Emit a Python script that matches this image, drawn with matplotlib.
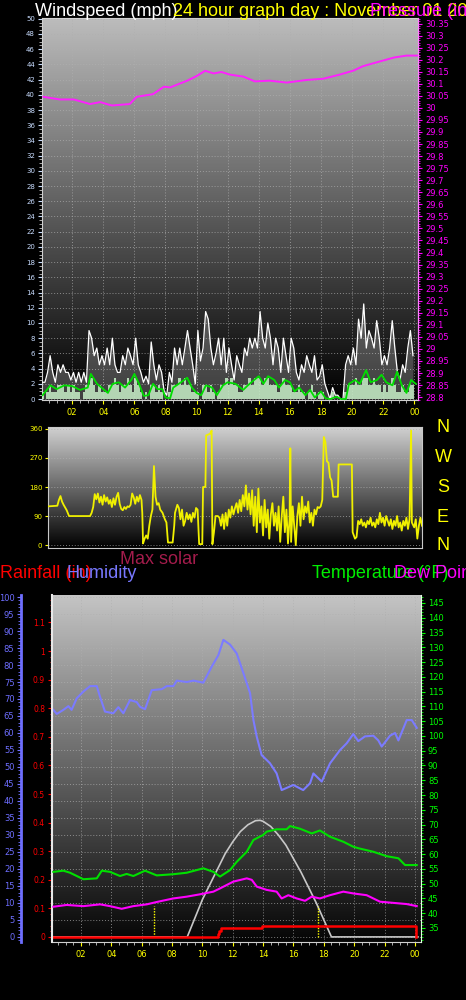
import numpy as np
import matplotlib
matplotlib.use('Agg')
import matplotlib.pyplot as plt
from matplotlib.colors import LinearSegmentedColormap
from matplotlib.ticker import MultipleLocator

# ---- data ----
hour_ticks = [2, 4, 6, 8, 10, 12, 14, 16, 18, 20, 22, 24]
hour_labels = ['02', '04', '06', '08', '10', '12', '14', '16', '18', '20', '22', '00']

# gusts (mph), one value per 10 minutes
gust = [2.2, 2.2, 3.5, 5.7, 3.5, 2.2,
        4.5, 3.5, 4.5, 3.5, 3.5, 2.5,
        3.5, 2.2, 3.5, 2.2, 3.5, 2.2,
        9.0, 8.0, 5.7, 6.7, 4.5, 5.7,
        4.5, 6.7, 4.5, 8.0, 4.5, 3.5,
        3.5, 5.7, 4.5, 6.7, 5.7, 4.5,
        8.0, 4.5, 3.5, 2.2, 3.0, 2.0,
        7.5, 4.5, 2.5, 4.5, 3.5, 1.0,
        0.5, 3.5, 2.2, 6.7, 4.5, 6.7,
        4.5, 6.7, 9.0, 6.7, 4.5, 2.0,
        9.0, 5.0, 6.7, 11.5, 10.5, 6.7,
        4.5, 6.0, 8.0, 4.5, 8.0, 3.5,
        6.7, 4.5, 2.5, 5.7, 4.5, 3.5,
        6.7, 5.7, 8.0, 6.7, 8.0, 6.7,
        11.5, 8.0, 6.7, 10.0, 8.0, 4.5,
        8.0, 6.7, 3.5, 8.0, 5.7, 3.5,
        8.0, 6.7, 3.5, 2.5, 4.5, 3.5,
        5.7, 4.5, 3.5, 5.7, 2.5, 3.0,
        4.5, 2.0, 1.0, 0.0, 1.5, 0.5,
        0.5, 0.0, 0.0, 4.5, 5.7, 4.5,
        6.7, 4.5, 10.5, 8.0, 12.5, 6.7,
        9.0, 8.0, 6.7, 10.3, 8.0, 4.5,
        5.7, 4.5, 6.7, 10.3, 6.7, 3.5,
        2.5, 4.5, 3.5, 6.7, 9.0, 5.7]

# wind speed (mph), one value per 10 minutes
wind = [0.9, 0, 0.9, 1.8, 0.9, 0.9,
        1.8, 1.8, 1.8, 0.9, 1.8, 0.9,
        1.8, 0.9, 0.9, 0, 0.9, 1.8,
        1.8, 2.7, 1.8, 0.9, 1.8, 0.9,
        0.9, 0.9, 1.8, 1.8, 2.7, 1.8,
        0.9, 1.8, 1.8, 2.7, 1.8, 0.9,
        2.7, 1.8, 0.9, 0, 0.9, 0,
        1.8, 1.8, 0.9, 1.8, 0.9, 0,
        0, 0.9, 1.8, 1.8, 1.8, 2.7,
        1.8, 2.7, 1.8, 1.8, 0.9, 0.9,
        0.9, 0, 1.8, 1.8, 0.9, 1.8,
        0.9, 0, 0.9, 1.8, 1.8, 2.7,
        1.8, 2.7, 1.8, 1.8, 0.9, 0.9,
        1.8, 1.8, 2.7, 1.8, 2.7, 2.7,
        2.7, 1.8, 2.7, 2.7, 1.8, 1.8,
        1.8, 0.9, 1.8, 2.7, 1.8, 1.8,
        1.8, 0.9, 0.9, 1.8, 0.9, 0.9,
        0, 0.9, 1.8, 0.9, 0, 0.9,
        0.9, 0, 0, 0, 0.9, 0,
        0, 0, 0, 0.9, 1.8, 1.8,
        1.8, 2.7, 1.8, 1.8, 2.7, 2.7,
        1.8, 1.8, 2.7, 1.8, 1.8, 0.9,
        1.8, 0.9, 1.8, 2.7, 1.8, 0.9,
        0.9, 1.8, 0.9, 0.9, 1.8, 1.8]

# average wind (mph)
avg_hours = [0.1, 0.6, 1.0, 1.5, 2.0, 2.5, 3.0, 3.2, 3.6, 4.0, 4.3, 4.6, 5.0, 5.4, 5.8,
             6.0, 6.3, 6.6, 6.9, 7.2, 7.5, 7.8, 8.0, 8.3, 8.5, 9.0, 9.4, 9.7, 10.0, 10.3,
             10.6, 11.0, 11.3, 11.7, 12.0, 12.5, 13.0, 13.3, 13.7, 14.0, 14.3, 14.6, 15.0,
             15.3, 15.7, 16.0, 16.3, 16.6, 17.0, 17.3, 17.6, 18.0, 18.3, 18.6, 19.0, 19.3,
             19.6, 19.8, 20.2, 20.5, 20.9, 21.2, 21.6, 21.9, 22.2, 22.6, 22.9, 23.2, 23.5,
             23.8, 24.1]
avg_wind = [0.5, 1.8, 1.3, 1.8, 1.7, 1.2, 1.5, 3.3, 2.0, 1.3, 0.8, 2.0, 2.2, 1.5, 2.5,
            3.3, 2.0, 0.4, 0.5, 2.0, 1.3, 1.3, 0.2, 0.1, 1.5, 2.2, 2.8, 1.5, 0.8, 0.5,
            1.8, 1.5, 0.5, 1.8, 2.2, 2.0, 1.2, 1.8, 2.5, 3.0, 2.0, 3.0, 2.5,
            1.5, 2.5, 2.2, 1.0, 1.5, 0.5, 1.2, 0.2, 1.0, 0.1, 0.0, 0.3, 0.0,
            0.0, 2.0, 2.5, 2.0, 3.8, 2.2, 2.5, 3.2, 2.2, 1.8, 3.6, 1.8, 0.8,
            2.5, 2.0]

# barometer (in)
press_hours = [0.15, 1.2, 2.1, 3.15, 3.8, 4.55, 5.7, 6.15, 7.2, 7.9, 8.3, 9.4, 10.0, 10.55,
               11.1, 11.6, 12.15, 13.0, 13.75, 14.7, 15.8, 17.1, 18.15, 19.2, 20.1, 20.7,
               21.8, 22.7, 23.5, 24.2]
pressure = [30.046, 30.035, 30.035, 30.016, 30.024, 30.010, 30.016, 30.046, 30.057, 30.088,
            30.085, 30.113, 30.132, 30.154, 30.143, 30.149, 30.138, 30.130, 30.110, 30.113,
            30.105, 30.116, 30.121, 30.138, 30.155, 30.173, 30.193, 30.209, 30.217, 30.217]

# wind direction (degrees)
dir_hours = [0.0, 0.6, 0.7, 0.8, 0.9, 1.0, 1.2, 1.35, 2.7, 2.8, 2.9, 3.0, 3.1, 3.2, 3.3, 3.4,
             3.5, 3.6, 3.7, 3.8, 3.9, 4.0, 4.1, 4.2, 4.3, 4.4, 4.5, 4.6, 4.7, 4.8, 4.9, 5.0,
             5.1, 5.2, 5.3, 5.4, 5.5, 5.6, 5.7, 5.8, 5.9, 6.0, 6.05, 6.1, 6.2, 6.3, 6.4, 6.5,
             6.6, 6.7, 6.8, 6.9, 7.0, 7.1, 7.2, 7.35, 7.5, 7.6, 7.7, 8.0, 8.1, 8.15, 8.3, 8.4,
             8.5, 8.6, 8.7, 8.8, 8.9, 9.0, 9.1, 9.2, 9.3, 9.4, 9.5, 9.6, 9.7, 9.9, 9.95, 10.1,
             10.15, 10.4, 10.5, 10.55, 10.65, 10.75, 10.9, 11.0, 11.1, 11.2, 11.3, 11.4, 11.5,
             11.6, 11.7, 11.8, 11.9, 12.0, 12.1, 12.2, 12.3, 12.4, 12.5, 12.6, 12.7, 12.8,
             12.9, 13.0, 13.1, 13.2, 13.3, 13.4, 13.5, 13.6, 13.7, 13.8, 13.9, 14.0, 14.1,
             14.2, 14.3, 14.4, 14.5, 14.6, 14.7, 14.8, 14.9, 15.0, 15.1, 15.2, 15.3, 15.4,
             15.5, 15.55, 15.6, 15.7, 15.8, 15.9, 16.0, 16.1, 16.2, 16.3, 16.4, 16.5, 16.6,
             16.7, 16.8, 16.9, 17.0, 17.1, 17.2, 17.3, 17.4, 17.5, 17.6, 17.7, 17.8, 17.9,
             18.0, 18.1, 18.2, 18.3, 18.6, 18.65, 19.5, 19.55, 19.7, 19.8, 19.9, 20.0, 20.1,
             20.2, 20.3, 20.4, 20.5, 20.6, 20.7, 20.8, 20.9, 21.0, 21.1, 21.2, 21.3, 21.4,
             21.5, 21.6, 21.7, 21.8, 21.9, 22.0, 22.1, 22.2, 22.3, 22.4, 22.5, 22.6, 22.7,
             22.8, 22.9, 23.0, 23.1, 23.2, 23.3, 23.35, 23.5, 23.6, 23.7, 23.8, 23.9, 24.0]
direction = [120, 122, 140, 152, 135, 125, 108, 90, 90, 100, 118, 158, 142, 160, 132, 150,
             125, 155, 135, 148, 128, 140, 118, 145, 125, 150, 162, 128, 112, 108, 118, 112,
             120, 118, 125, 160, 148, 128, 150, 135, 155, 140, 100, 5, 20, 30, 20, 60,
             90, 110, 245, 150, 125, 130, 110, 100, 80, 70, 8, 8, 60, 100, 125, 115,
             80, 110, 60, 75, 100, 80, 95, 72, 100, 85, 115, 110, 3, 3, 180, 180,
             340, 345, 355, 3, 40, 90, 90, 85, 60, 95, 50, 100, 60,
             110, 85, 120, 95, 115, 130, 100, 140, 105, 155, 120, 185, 110,
             160, 95, 170, 60, 150, 40, 175, 70, 120, 30, 140, 55, 110,
             20, 95, 130, 60, 100, 45, 120, 10, 90, 150, 40, 110, 5,
             80, 300, 10, 120, 60, 0, 90, 130, 60, 150, 80, 120, 100,
             135, 70, 100, 60, 110, 95, 118, 115, 120, 140, 335, 320, 260,
             255, 210, 200, 150, 150, 250, 250, 40, 20, 25, 75, 65, 80,
             60, 70, 55, 75, 65, 85, 60, 70, 55, 80, 65, 100, 70,
             85, 60, 90, 75, 60, 80, 50, 75, 60, 90, 55, 70, 45,
             75, 60, 85, 50, 80, 355, 70, 55, 80, 20, 60, 85, 60]

# humidity (%)
hum_hours = [0.18, 0.4, 0.84, 1.17, 1.38, 1.72, 2.16, 2.6, 3.04, 3.25, 3.58, 4.13, 4.46, 4.79,
             5.23, 5.67, 5.89, 6.22, 6.66, 7.32, 7.65, 8.09, 8.31, 8.97, 9.41, 10.06, 10.61,
             11.05, 11.38, 11.82, 12.26, 12.7, 13.14, 13.36, 13.58, 13.9, 14.45, 14.89, 15.22,
             15.99, 16.64, 17.09, 17.31, 17.86, 18.41, 19.07, 19.51, 19.94, 20.27, 20.71,
             21.26, 21.59, 21.81, 22.36, 22.69, 22.91, 23.46, 23.79, 24.12]
humidity = [66.8, 65.6, 66.8, 67.9, 66.8, 70.2, 72.2, 73.8, 73.8, 70.7, 66.3, 65.8, 67.6, 65.8,
            69.7, 69.1, 67.7, 67.0, 72.6, 72.9, 73.8, 73.8, 75.4, 75.0, 75.4, 74.8, 79.5,
            82.9, 87.4, 86.0, 83.4, 77.6, 71.7, 63.8, 58.9, 53.5, 51.1, 48.1, 43.2,
            44.7, 43.2, 45.2, 48.1, 45.7, 51.1, 55.0, 57.0, 59.7, 57.6, 59.0,
            59.2, 57.8, 56.0, 59.2, 60.0, 57.8, 63.8, 63.8, 61.5]

# temperature and dew point (F)
temp_hours = [0.18, 0.84, 1.28, 2.16, 3.04, 3.37, 3.91, 4.57, 5.01, 5.45, 6.22, 6.99, 8.08,
              8.96, 10.06, 10.72, 11.16, 11.82, 12.26, 12.92, 13.36, 14.01, 14.23, 14.89,
              15.55, 15.77, 16.43, 17.2, 17.74, 18.4, 19.28, 19.94, 20.27, 21.26, 22.14,
              22.91, 23.35, 24.12]
temperature = [54.0, 54.4, 53.7, 51.5, 51.8, 54.4, 54.0, 52.6, 53.3, 52.6, 54.4, 52.8, 53.2,
               53.7, 55.2, 54.0, 52.4, 54.6, 57.4, 60.8, 64.8, 66.5, 67.6, 68.4,
               68.4, 69.5, 68.6, 67.0, 68.0, 65.9, 64.2, 62.5, 62.0, 60.8, 59.3,
               58.6, 56.3, 56.3]
dew_hours = [0.18, 1.06, 2.16, 3.26, 3.91, 4.68, 5.45, 6.33, 6.99, 8.08, 8.96, 9.84, 10.72,
             11.16, 12.04, 12.92, 13.25, 13.58, 14.23, 14.89, 15.22, 15.66, 16.21, 16.76,
             17.2, 17.74, 18.4, 19.28, 19.94, 20.82, 21.7, 22.58, 23.46, 24.12]
dew_point = [42.2, 42.8, 42.4, 43.0, 42.4, 41.5, 42.4, 43.0, 43.8, 45.0, 45.6, 46.4, 47.3,
             48.4, 50.7, 51.8, 51.3, 49.0, 47.9, 47.3, 45.0, 46.1, 45.0, 44.2,
             45.6, 45.0, 46.1, 47.3, 46.7, 46.1, 43.9, 43.5, 43.1, 42.4]

# max solar curve (in humidity-axis units)
solar_hours = [0.1, 9.0, 9.5, 10.0, 10.5, 11.0, 11.5, 12.0, 12.5, 13.0, 13.5, 13.8, 14.0, 14.5,
               15.0, 15.5, 16.0, 16.5, 17.0, 17.5, 18.0, 18.5, 24.2]
solar_max = [0, 0, 5.5, 11, 15.5, 20, 24.5, 28, 31, 33, 34.2, 34.3, 34, 32.5,
             30, 27, 23, 19, 14.5, 10, 5, 0, 0]

# rainfall (in)
rain_hours = [0.1, 10.9, 11.0, 11.1, 11.2, 13.9, 13.95, 24.05, 24.06]
rainfall = [0, 0, 0.01, 0.02, 0.03, 0.03, 0.04, 0.04, 0]

sun_events = [6.8, 17.6]

# ---- drawing ----
fig = plt.figure(figsize=(4.66, 10), dpi=100, facecolor='black')
W, H = 466, 1000


def box(x0, y0, x1, y1):
    return [x0 / W, 1 - y1 / H, (x1 - x0) / W, (y1 - y0) / H]


def gradient(ax, top, bottom):
    cmap = LinearSegmentedColormap.from_list('bg', [bottom, top])
    ax.imshow(np.linspace(0, 1, 256).reshape(-1, 1), cmap=cmap, extent=(0, 1, 0, 1),
              transform=ax.transAxes, aspect='auto', origin='lower', zorder=0)


grid_kw = dict(color='#b0b0b0', ls=(0, (1, 2)), lw=0.7, alpha=0.7)

# top panel: wind + pressure
ax1 = fig.add_axes(box(42, 18, 418, 400))
gradient(ax1, '#bcbcbc', '#000000')
t10 = np.arange(len(gust)) / 6 + 1 / 12
ax1.fill_between(t10, gust, color='#d0d0d0', alpha=0.3, lw=0, zorder=2)
ax1.plot(t10, gust, color='white', lw=0.9, zorder=3)
ax1.bar(t10, wind, width=1 / 6, color='#c8f0c8', alpha=0.85, lw=0, zorder=4)
ax1.plot(avg_hours, avg_wind, color='#00dd00', lw=1.3, zorder=5)
ax1.set_xlim(0.06, 24.24)
ax1.set_ylim(-0.13, 50.1)
ax1.set_yticks(range(0, 51, 2))
ax1.yaxis.set_minor_locator(MultipleLocator(0.5))
ax1.set_xticks(hour_ticks)
ax1.set_xticklabels(hour_labels)
ax1.xaxis.set_minor_locator(MultipleLocator(0.5))
ax1.tick_params(axis='y', colors='#c8dcff', labelsize=5, length=3, width=0.8, pad=2)
ax1.tick_params(axis='y', which='minor', colors='#c8c8c8', length=2)
ax1.tick_params(axis='x', colors='#ffff00', labelsize=6, length=3, pad=3)
ax1.tick_params(axis='x', which='minor', colors='#c8c8c8', length=2)
ax1.grid(True, **grid_kw)
for s in ax1.spines.values():
    s.set_color('#d0d0d0')

ax1p = ax1.twinx()
ax1p.plot(press_hours, pressure, color='#ff20ff', lw=1.4)
ax1p.set_ylim(28.788, 30.373)
pt = np.round(np.arange(28.8, 30.351, 0.05), 2)
ax1p.set_yticks(pt)
ax1p.set_yticklabels(['%g' % v for v in pt])
ax1p.yaxis.set_minor_locator(MultipleLocator(0.01))
ax1p.tick_params(axis='y', colors='#ff00ff', labelsize=6, length=3, pad=2)
ax1p.tick_params(axis='y', which='minor', colors='#ff00ff', length=1.5)
ax1p.spines['right'].set_color('#ff80ff')
for k in ('left', 'top', 'bottom'):
    ax1p.spines[k].set_visible(False)

# direction panel
ax2 = fig.add_axes(box(48, 427, 422, 548))
gradient(ax2, '#d2d2d2', '#000000')
ax2.plot(dir_hours, direction, color='#f0f000', lw=1.3, zorder=3)
ax2.set_xlim(0, 24)
ax2.set_ylim(-9, 366)
ax2.set_yticks([0, 90, 180, 270, 360])
ax2.set_xticks([])
ax2.yaxis.grid(True, **grid_kw)
ax2.tick_params(axis='y', colors='#ffff00', labelsize=5, length=2, pad=2)
for s in ax2.spines.values():
    s.set_color('#c8c8c8')

# bottom panel: humidity, rain, temperature
axh = fig.add_axes(box(52, 595, 421, 942))
gradient(axh, '#c4c4c4', '#050505')
axh.plot(solar_hours, solar_max, color='#c8c8c8', lw=1.2, zorder=3)
axh.vlines(sun_events, 0, 9, colors='#ffff00', linestyles=(0, (1, 1)), lw=1, zorder=3)
axh.plot(hum_hours, humidity, color='#7b7bff', lw=1.5, zorder=4)
axh.set_xlim(0.09, 24.4)
axh.set_ylim(-1.5, 100.6)
axh.set_yticks(range(0, 101, 5))
axh.yaxis.set_minor_locator(MultipleLocator(1))
axh.set_xticks(hour_ticks)
axh.set_xticklabels(hour_labels)
axh.xaxis.set_minor_locator(MultipleLocator(0.5))
axh.grid(True, **grid_kw)
axh.spines['left'].set_position(('outward', 22))
axh.spines['left'].set_color('#6e6eff')
axh.spines['left'].set_linewidth(2)
axh.spines['bottom'].set_color('#d0d0d0')
axh.spines['top'].set_visible(False)
axh.spines['right'].set_visible(False)
axh.tick_params(axis='y', colors='#6e6eff', labelsize=6, length=3, pad=2)
axh.tick_params(axis='y', which='minor', colors='#6e6eff', length=2)
axh.tick_params(axis='x', colors='#ffff00', labelsize=6, length=3, pad=3)
axh.tick_params(axis='x', which='minor', colors='#c8c8c8', length=2)

axr = axh.twinx()
axr.plot(rain_hours, rainfall, color='#ff0000', lw=1.8, drawstyle='steps-post')
axr.yaxis.tick_left()
axr.set_ylim(-0.0175, 1.196)
rt = np.round(np.arange(0, 1.11, 0.1), 1)
axr.set_yticks(rt)
axr.set_yticklabels(['%g' % v for v in rt])
axr.yaxis.set_minor_locator(MultipleLocator(0.02))
axr.tick_params(axis='y', colors='#ff0000', labelsize=5.5, length=3, pad=2)
axr.tick_params(axis='y', which='minor', colors='#ff3030', length=1.5)
axr.spines['left'].set_color('#e8e8e8')
axr.spines['left'].set_linewidth(1.5)
for k in ('right', 'top', 'bottom'):
    axr.spines[k].set_visible(False)

axt = axh.twinx()
axt.plot(temp_hours, temperature, color='#00e000', lw=1.5)
axt.plot(dew_hours, dew_point, color='#ff00ff', lw=1.5)
axt.set_ylim(30.26, 147.7)
axt.set_yticks(range(35, 146, 5))
axt.yaxis.set_minor_locator(MultipleLocator(1))
axt.tick_params(axis='y', colors='#00ff00', labelsize=6, length=3, pad=2)
axt.tick_params(axis='y', which='minor', colors='#00ff00', length=1.5)
axt.spines['right'].set_color('#e0ffe0')
for k in ('left', 'top', 'bottom'):
    axt.spines[k].set_visible(False)

# titles and labels (overlapping as in the original)
font = 'Liberation Sans'
fig.text(35 / W, 1 - 12 / H, 'Windspeed (mph)', color='white', fontsize=13, va='center', family=font)
fig.text(173 / W, 1 - 12 / H, '24 hour graph day : November 01 2024', color='#ffff00',
         fontsize=13, va='center', family=font)
fig.text(370 / W, 1 - 12 / H, 'Pressure (in)', color='#ff00ff', fontsize=13, va='center', family=font)

for letter, y in zip(['N', 'W', 'S', 'E', 'N'], [428, 458, 488, 518, 545]):
    fig.text(443 / W, 1 - y / H, letter, color='#ffff00', fontsize=13, ha='center', va='center', family=font)

fig.text(120 / W, 1 - 559 / H, 'Max solar', color='#a41c4c', fontsize=13, va='center', family=font)
fig.text(0, 1 - 573 / H, 'Rainfall (in)', color='#ff0000', fontsize=13, va='center', family=font)
fig.text(67 / W, 1 - 573 / H, 'Humidity', color='#7878ff', fontsize=13, va='center', family=font)
fig.text(312 / W, 1 - 573 / H, 'Temperature (°F)', color='#00ee00', fontsize=13, va='center', family=font)
fig.text(394 / W, 1 - 573 / H, 'Dew Point', color='#ff00ff', fontsize=13, va='center', family=font)

fig.savefig('out.png', dpi=100, facecolor='black')
